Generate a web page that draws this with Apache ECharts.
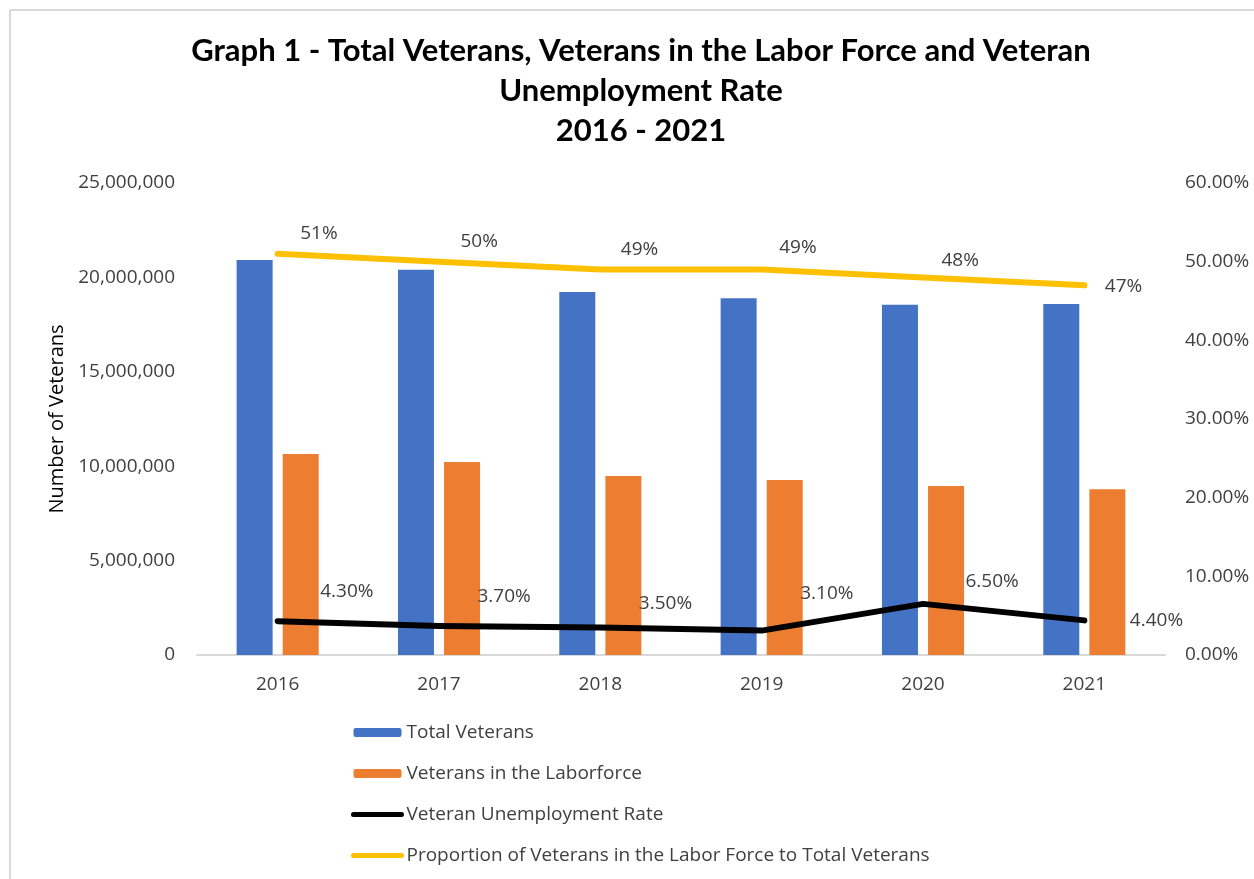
<!DOCTYPE html>
<html>
<head>
<meta charset="utf-8">
<title>Graph 1 - Total Veterans, Veterans in the Labor Force and Veteran Unemployment Rate</title>
<script src="https://cdn.jsdelivr.net/npm/echarts@6/dist/echarts.min.js"></script>
<style>
  html, body { margin: 0; padding: 0; background: #ffffff; }
  #chart { width: 1254px; height: 879px; }
</style>
</head>
<body>
<div id="chart"></div>
<script>
// Years on the category axis
const years = ['2016', '2017', '2018', '2019', '2020', '2021'];

// Veteran counts (left axis)
const totalVeterans = [20920000, 20400000, 19230000, 18890000, 18550000, 18590000];
const veteransInLaborforce = [10640000, 10220000, 9480000, 9270000, 8950000, 8780000];

// Rates as fractions (right axis)
const unemploymentRate = [0.043, 0.037, 0.035, 0.031, 0.065, 0.044];
const laborForceProportion = [0.51, 0.50, 0.49, 0.49, 0.48, 0.47];

// Left and right axis ranges
const countAxis = { min: 0, max: 25000000, interval: 5000000 };
const rateAxis = { min: 0, max: 0.6, interval: 0.1 };

// Nudges for the data labels beside each point (pixels, [dx, dy])
const unemploymentLabelShift = [[42, -30], [38, -29], [38, -24], [38, -37], [42, -22], [45, 0]];
const proportionLabelShift = [[22, -20], [21, -20], [20, -20], [17, -22], [18, -17], [20, 1]];

const FONT = '"Open Sans", "Noto Sans", sans-serif';
const TEXT_GREY = '#404040';
const FS = 19;

const fmtCount = v => Math.round(v).toLocaleString('en-US');

function lineData(values, shifts) {
  return values.map((v, i) => ({
    value: v,
    label: { offset: shifts[i] }
  }));
}

const chart = echarts.init(document.getElementById('chart'), null, { renderer: 'canvas' });

chart.setOption({
  backgroundColor: '#ffffff',
  animation: false,
  title: {
    text: 'Graph 1 - Total Veterans, Veterans in the Labor Force and Veteran\nUnemployment Rate\n2016 - 2021',
    left: 636,
    top: 26,
    textAlign: 'center',
    textStyle: {
      fontFamily: 'Lato, "Open Sans", sans-serif',
      fontWeight: 'bold',
      fontSize: 31,
      lineHeight: 40,
      color: '#000000'
    }
  },
  graphic: [
    { type: 'line', shape: { x1: 10, y1: 10, x2: 1254, y2: 10 }, style: { stroke: '#d9d9d9', lineWidth: 2 } },
    { type: 'line', shape: { x1: 10, y1: 10, x2: 10, y2: 879 }, style: { stroke: '#d9d9d9', lineWidth: 2 } }
  ],
  legend: {
    orient: 'vertical',
    left: 346,
    top: 717,
    itemWidth: 48,
    itemHeight: 9,
    itemGap: 20,
    textStyle: { fontFamily: FONT, fontSize: FS, color: TEXT_GREY, lineHeight: 21 },
    data: [
      { name: 'Total Veterans' },
      { name: 'Veterans in the Laborforce' },
      {
        name: 'Veteran Unemployment Rate',
        itemStyle: { opacity: 0 },
        lineStyle: { width: 5, cap: 'round' }
      },
      {
        name: 'Proportion of Veterans in the Labor Force to Total Veterans',
        itemStyle: { opacity: 0 },
        lineStyle: { width: 5, cap: 'round' }
      }
    ]
  },
  grid: { left: 197, right: 89, top: 183, bottom: 224, containLabel: false },
  xAxis: {
    type: 'category',
    data: years,
    axisLine: { show: true, lineStyle: { color: '#d9d9d9', width: 2 } },
    axisTick: { show: false },
    axisLabel: { fontFamily: FONT, fontSize: FS, color: TEXT_GREY, margin: 20 },
    splitLine: { show: false }
  },
  yAxis: [
    {
      type: 'value',
      min: countAxis.min,
      max: countAxis.max,
      interval: countAxis.interval,
      name: 'Number of Veterans',
      nameLocation: 'middle',
      nameGap: 128,
      nameRotate: 90,
      nameTextStyle: { fontFamily: FONT, fontSize: 20, color: '#000000' },
      axisLine: { show: false },
      axisTick: { show: false },
      splitLine: { show: false },
      axisLabel: { fontFamily: FONT, fontSize: FS, color: TEXT_GREY, margin: 22, formatter: fmtCount }
    },
    {
      type: 'value',
      min: rateAxis.min,
      max: rateAxis.max,
      interval: rateAxis.interval,
      axisLine: { show: false },
      axisTick: { show: false },
      splitLine: { show: false },
      axisLabel: {
        fontFamily: FONT, fontSize: FS, color: TEXT_GREY, margin: 20,
        formatter: v => (v * 100).toFixed(2) + '%'
      }
    }
  ],
  series: [
    {
      name: 'Total Veterans',
      type: 'bar',
      yAxisIndex: 0,
      data: totalVeterans,
      barWidth: 36,
      barGap: '28%',
      itemStyle: { color: '#4472C4' }
    },
    {
      name: 'Veterans in the Laborforce',
      type: 'bar',
      yAxisIndex: 0,
      data: veteransInLaborforce,
      barWidth: 36,
      barGap: '28%',
      itemStyle: { color: '#ED7D31' }
    },
    {
      name: 'Veteran Unemployment Rate',
      type: 'line',
      yAxisIndex: 1,
      data: lineData(unemploymentRate, unemploymentLabelShift),
      symbol: 'circle',
      symbolSize: 1,
      itemStyle: { color: '#000000' },
      lineStyle: { color: '#000000', width: 6, cap: 'round', join: 'round' },
      label: {
        show: true,
        position: 'right',
        distance: 0,
        fontFamily: FONT,
        fontSize: FS,
        color: TEXT_GREY,
        formatter: p => (p.value * 100).toFixed(2) + '%'
      },
      z: 5
    },
    {
      name: 'Proportion of Veterans in the Labor Force to Total Veterans',
      type: 'line',
      yAxisIndex: 1,
      data: lineData(laborForceProportion, proportionLabelShift),
      symbol: 'circle',
      symbolSize: 1,
      itemStyle: { color: '#FFC000' },
      lineStyle: { color: '#FFC000', width: 6, cap: 'round', join: 'round' },
      label: {
        show: true,
        position: 'right',
        distance: 0,
        fontFamily: FONT,
        fontSize: FS,
        color: TEXT_GREY,
        formatter: p => Math.round(p.value * 100) + '%'
      },
      z: 5
    }
  ]
});
</script>
</body>
</html>
